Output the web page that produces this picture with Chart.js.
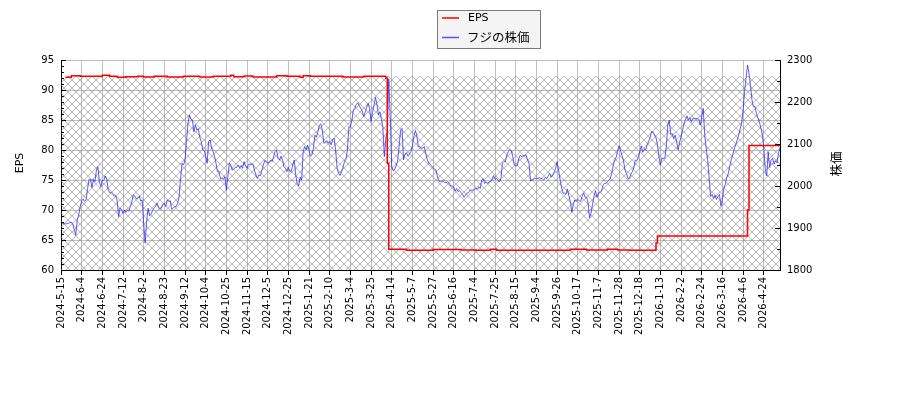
<!DOCTYPE html>
<html>
<head>
<meta charset="utf-8">
<script src="https://cdn.jsdelivr.net/npm/chart.js@4.4.0/dist/chart.umd.min.js"></script>
<style>
html,body{margin:0;padding:0;background:#fff;}
#c{display:block;}
</style>
</head>
<body>
<canvas id="c" width="900" height="400" style="width:900px;height:400px"></canvas>
<script>
// x-axis tick labels (one every 14 trading days)
const tickLabels = ["2024-5-15","2024-6-4","2024-6-24","2024-7-12","2024-8-2","2024-8-23","2024-9-12","2024-10-4","2024-10-25","2024-11-15","2024-12-5","2024-12-25","2025-1-21","2025-2-10","2025-3-4","2025-3-25","2025-4-14","2025-5-7","2025-5-27","2025-6-16","2025-7-4","2025-7-25","2025-8-15","2025-9-4","2025-9-26","2025-10-17","2025-11-7","2025-11-28","2025-12-18","2026-1-13","2026-2-2","2026-2-24","2026-3-16","2026-4-6","2026-4-24"];
const tickIdx = tickLabels.map((_, k) => k * 14);
const lastIdx = 487;

// daily share price (trading-day index 0..487)
const priceValues = [
1915,1911,1910,1910,1910,1911,1913,1914,1910,1895,
1883,1919,1931,1951,1964,1969,1963,1967,1994,2016,
2016,1997,2016,2010,2038,2046,2010,1998,2014,2013,
2024,2016,1991,1984,1984,1981,1976,1977,1967,1927,
1947,1943,1935,1943,1937,1943,1940,1951,1963,1979,
1976,1970,1971,1976,1964,1967,1911,1864,1915,1947,
1929,1933,1941,1947,1951,1959,1949,1944,1947,1957,
1959,1951,1967,1963,1965,1944,1947,1951,1952,1959,
1975,2018,2054,2050,2062,2106,2149,2169,2159,2156,
2129,2145,2133,2137,2116,2106,2086,2084,2071,2054,
2106,2110,2090,2082,2071,2054,2034,2034,2018,2018,
2016,2022,1990,2022,2054,2050,2038,2040,2044,2044,
2050,2044,2049,2042,2058,2048,2042,2052,2052,2052,
2052,2038,2026,2018,2026,2024,2036,2050,2060,2060,
2056,2056,2062,2058,2070,2082,2086,2066,2062,2071,
2063,2046,2042,2034,2044,2034,2036,2050,2062,2026,
2006,2000,2021,2014,2082,2094,2086,2097,2084,2071,
2074,2090,2121,2116,2129,2145,2148,2132,2102,2103,
2108,2102,2106,2098,2110,2114,2086,2044,2030,2025,
2034,2044,2058,2063,2086,2141,2140,2156,2181,2185,
2194,2198,2191,2185,2179,2165,2175,2187,2197,2185,
2153,2175,2192,2211,2195,2169,2177,2159,2140,2070,
2113,2130,2255,2165,2046,2036,2040,2048,2060,2094,
2133,2137,2062,2076,2079,2071,2076,2082,2095,2117,
2132,2121,2094,2094,2090,2090,2094,2078,2064,2054,
2052,2048,2044,2040,2038,2022,2011,2011,2012,2011,
2008,2008,2010,2006,2000,2000,1998,1988,1994,1987,
1989,1984,1980,1973,1978,1983,1984,1990,1990,1990,
1992,1994,1992,1998,1994,2014,2017,2006,2010,2006,
2010,2010,2016,2025,2016,2018,2013,2010,2018,2054,
2058,2058,2074,2082,2087,2084,2070,2050,2048,2048,
2065,2073,2070,2072,2073,2074,2062,2054,2013,2014,
2016,2018,2017,2018,2020,2018,2017,2014,2020,2018,
2024,2030,2021,2026,2033,2042,2058,2038,2016,1997,
1983,1983,1980,1993,1977,1962,1938,1956,1967,1963,
1968,1965,1963,1976,1983,1973,1973,1959,1924,1935,
1956,1975,1989,1973,1983,1984,1987,2000,2006,2006,
2010,2013,2017,2030,2048,2062,2068,2083,2096,2084,
2073,2060,2038,2030,2018,2018,2028,2034,2044,2062,
2060,2069,2082,2095,2080,2087,2086,2098,2106,2115,
2129,2129,2121,2115,2098,2070,2050,2066,2066,2066,
2094,2145,2157,2123,2125,2113,2121,2104,2086,2104,
2117,2133,2149,2159,2167,2157,2163,2152,2161,2160,
2161,2160,2159,2145,2165,2185,2121,2090,2062,2018,
1975,1980,1970,1978,1968,1975,1980,1952,1968,1995,
2005,2021,2030,2048,2062,2075,2088,2098,2109,2121,
2136,2149,2181,2225,2256,2288,2268,2240,2205,2189,
2189,2173,2163,2153,2139,2123,2090,2040,2024,2080,
2044,2062,2066,2052,2060,2055,2078,2090
];

// EPS: index where each level starts, and its value
const epsIdx  = [3,7,13,28,33,38,44,52,56,63,72,83,94,103,115,117,124,130,146,153,162,164,169,191,205,220,221,222,234,252,271,281,291,295,345,356,370,377,385,403,404,465,466,487];
const epsVals = [92.11,92.39,92.28,92.44,92.28,92.11,92.22,92.28,92.17,92.28,92.17,92.28,92.17,92.28,92.44,92.22,92.33,92.17,92.39,92.28,92.11,92.39,92.28,92.17,92.28,92.0,77.8,63.45,63.3,63.4,63.33,63.28,63.44,63.28,63.44,63.33,63.44,63.33,63.28,64.5,65.67,70.0,80.75,80.75];

// hatched band top level
const hatchTop = 92.35;

const seriesNames = ["EPS", "フジの株価"];
const axisTitles = ["EPS", "株価"];

// hatch pattern
const pc = document.createElement('canvas');
pc.width = 8; pc.height = 8;
const pg = pc.getContext('2d');
pg.strokeStyle = 'rgba(125,125,125,0.65)';
pg.lineWidth = 0.85;
pg.beginPath();
pg.moveTo(-1,-1); pg.lineTo(9,9);
pg.moveTo(9,-1); pg.lineTo(-1,9);
pg.stroke();
const hatch = pg.createPattern(pc, 'repeat');

const LATIN = "'DejaVu Sans', sans-serif";
const CJK = "'Noto Sans CJK JP', 'DejaVu Sans', sans-serif";

const decor = {
  id: 'decor',
  afterDraw(chart) {
    const ctx = chart.ctx, ca = chart.chartArea;
    const yl = chart.scales.y, yr = chart.scales.y2;
    ctx.save();
    ctx.strokeStyle = '#000';
    ctx.lineWidth = 1;
    ctx.beginPath();
    for (let v = yl.min; v <= yl.max; v += 1) {
      const py = Math.round(yl.getPixelForValue(v)) + 0.5;
      const len = (v % 5 === 0) ? 5 : 3;
      ctx.moveTo(ca.left, py); ctx.lineTo(ca.left + len, py);
    }
    for (let v = yr.min; v <= yr.max; v += 50) {
      const py = Math.round(yr.getPixelForValue(v)) + 0.5;
      const len = (v % 100 === 0) ? 5 : 3;
      ctx.moveTo(ca.right, py); ctx.lineTo(ca.right - len, py);
    }
    ctx.stroke();

    // axis titles
    ctx.fillStyle = '#000';
    ctx.textAlign = 'center';
    ctx.textBaseline = 'middle';
    const cy = (ca.top + ca.bottom) / 2;
    ctx.save();
    ctx.translate(20, cy - 2);
    ctx.rotate(-Math.PI / 2);
    ctx.font = "11px " + LATIN;
    ctx.fillText(axisTitles[0], 0, 0);
    ctx.restore();
    ctx.save();
    ctx.translate(836, cy - 1);
    ctx.rotate(-Math.PI / 2);
    ctx.font = "12.5px " + CJK;
    ctx.fillText(axisTitles[1], 0, 0);
    ctx.restore();

    // legend
    const lx = 437.5, ly = 10.5, lw = 103, lh = 38;
    ctx.fillStyle = '#f4f4f4';
    ctx.fillRect(lx, ly, lw, lh);
    ctx.strokeStyle = '#7a7a7a';
    ctx.lineWidth = 1;
    ctx.strokeRect(lx, ly, lw, lh);
    ctx.lineWidth = 1.5;
    ctx.strokeStyle = '#ff0000';
    ctx.beginPath(); ctx.moveTo(442, 18); ctx.lineTo(459, 18); ctx.stroke();
    ctx.strokeStyle = 'rgba(40,40,255,0.8)';
    ctx.beginPath(); ctx.moveTo(442, 37.5); ctx.lineTo(459, 37.5); ctx.stroke();
    ctx.fillStyle = '#000';
    ctx.textAlign = 'left';
    ctx.font = "11px " + LATIN;
    ctx.fillText(seriesNames[0], 468, 18);
    ctx.font = "12.5px " + CJK;
    ctx.fillText(seriesNames[1], 467, 37.5);
    ctx.restore();
  }
};

new Chart(document.getElementById('c'), {
  type: 'line',
  data: {
    datasets: [
      {
        label: 'band',
        data: [{x: 0, y: hatchTop}, {x: lastIdx, y: hatchTop}],
        yAxisID: 'y',
        borderWidth: 0,
        borderColor: 'rgba(0,0,0,0)',
        backgroundColor: hatch,
        fill: 'start',
        pointRadius: 0,
        order: 3
      },
      {
        label: seriesNames[1],
        data: priceValues.map((v, i) => ({x: i, y: v})),
        yAxisID: 'y2',
        borderColor: 'rgba(30,30,255,0.8)',
        borderWidth: 0.9,
        pointRadius: 0,
        fill: false,
        tension: 0,
        order: 2
      },
      {
        label: seriesNames[0],
        data: epsIdx.map((x, k) => ({x: x, y: epsVals[k]})),
        yAxisID: 'y',
        borderColor: '#ff0000',
        borderWidth: 1.5,
        pointRadius: 0,
        fill: false,
        stepped: 'before',
        order: 1
      }
    ]
  },
  options: {
    responsive: false,
    animation: false,
    layout: {padding: {top: 60, left: 0, right: 0, bottom: 0}},
    plugins: {legend: {display: false}, tooltip: {enabled: false}},
    scales: {
      x: {
        type: 'linear',
        min: 0,
        max: lastIdx,
        afterBuildTicks: (s) => { s.ticks = tickIdx.map(v => ({value: v})); },
        afterFit: (s) => { s.height = 130; },
        ticks: {
          autoSkip: false,
          maxRotation: 90,
          minRotation: 90,
          padding: 2,
          color: '#000',
          font: {family: LATIN, size: 10},
          callback: (v) => { const k = tickIdx.indexOf(v); return k >= 0 ? tickLabels[k] : ''; }
        },
        grid: {color: '#b0b0b0', lineWidth: 0.8, tickLength: 5, tickColor: '#000', tickWidth: 1},
        border: {color: '#000', width: 1}
      },
      y: {
        position: 'left',
        min: 60,
        max: 95,
        afterFit: (s) => { s.width = 61; },
        ticks: {stepSize: 5, padding: 7, color: '#000', font: {family: LATIN, size: 10}, callback: (v) => String(v)},
        grid: {color: '#b0b0b0', lineWidth: 0.8, drawTicks: false},
        border: {color: '#000', width: 1}
      },
      y2: {
        position: 'right',
        min: 1800,
        max: 2300,
        afterFit: (s) => { s.width = 120; },
        ticks: {stepSize: 100, padding: 7, color: '#000', font: {family: LATIN, size: 10}, callback: (v) => String(v)},
        grid: {drawOnChartArea: false, drawTicks: false},
        border: {color: '#000', width: 1}
      }
    }
  },
  plugins: [decor]
});
</script>
</body>
</html>
